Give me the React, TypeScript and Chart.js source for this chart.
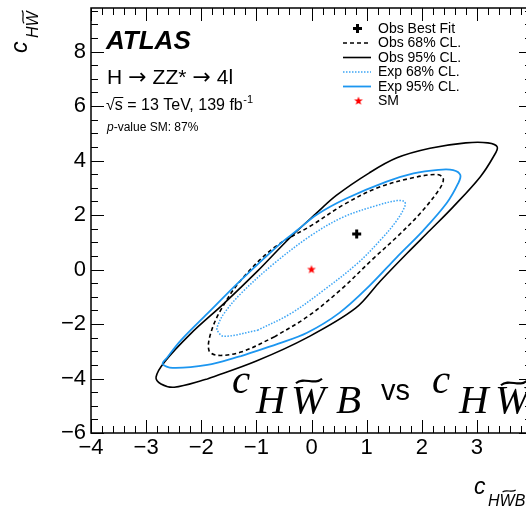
import React, { useEffect, useRef } from 'react';
import { Chart, registerables } from 'chart.js';

Chart.register(...registerables);

// ---- data -----------------------------------------------------------------
const xTicks = [-4, -3, -2, -1, 0, 1, 2, 3, 4];
const yTicks = [-6, -4, -2, 0, 2, 4, 6, 8];
const xRange = [-4, 4];
const yRange = [-6, 9.6];

const obsBestFit = [[0.82, 1.3]];
const smPoint = [[0, 0]];

const obs95 = [
  [-1.89, -4.02], [-1.0, -3.36], [-0.08, -2.5], [0.8, -1.42], [1.25, -0.42], [1.73, 0.59],
  [2.15, 1.44], [2.57, 2.3], [3.06, 3.4], [3.3, 4.14], [3.37, 4.5], [3.2, 4.65], [2.8, 4.65],
  [2.15, 4.45], [1.55, 4.1], [1.05, 3.55], [0.45, 2.72], [0.08, 2.05], [-0.4, 1.15],
  [-0.98, -0.06], [-1.59, -1.25], [-2.19, -2.35], [-2.67, -3.4], [-2.82, -3.95], [-2.73, -4.2],
  [-2.49, -4.32], [-1.89, -4.02],
];

const obs68 = [
  [-0.68, -2.48], [-0.08, -1.74], [0.52, -0.76], [1.13, 0.42], [1.55, 1.2], [1.97, 2.06],
  [2.33, 2.98], [2.39, 3.35], [2.27, 3.49], [1.8, 3.35], [1.2, 3.0], [0.6, 2.4], [0.0, 1.62],
  [-0.68, 0.8], [-1.28, -0.39], [-1.65, -1.5], [-1.83, -2.35], [-1.86, -2.97], [-1.71, -3.15],
  [-1.28, -3.03], [-0.68, -2.48],
];

const exp95 = [
  [-1.28, -3.18], [-0.6, -2.72], [-0.08, -2.32], [0.5, -1.6], [1.05, -0.6], [1.55, 0.46],
  [2.03, 1.44], [2.45, 2.43], [2.66, 3.16], [2.7, 3.47], [2.57, 3.65], [2.3, 3.66], [1.85, 3.53],
  [1.35, 3.22], [0.62, 2.6], [0.1, 2.02], [-0.26, 1.44], [-0.56, 0.96], [-1.28, -0.39],
  [-1.89, -1.62], [-2.37, -2.6], [-2.61, -3.21], [-2.7, -3.46], [-2.52, -3.61], [-1.89, -3.5],
  [-1.28, -3.18],
];

const exp68 = [
  [-0.98, -2.23], [-0.38, -1.62], [0.22, -0.76], [0.83, 0.22], [1.25, 1.08], [1.55, 1.81],
  [1.7, 2.36], [1.68, 2.5], [1.55, 2.53], [1.2, 2.36], [0.58, 1.93], [0.0, 1.26], [-0.68, 0.22],
  [-1.28, -0.88], [-1.59, -1.62], [-1.7, -2.05], [-1.71, -2.23], [-1.59, -2.45], [-0.98, -2.23],
];

const legendLabels = ['Obs Best Fit', 'Obs 68% CL.', 'Obs 95% CL.', 'Exp 68% CL.', 'Exp 95% CL.', 'SM'];

// ---- styling ----------------------------------------------------------------
const SANS = "'Liberation Sans', Arial, Helvetica, sans-serif";
const SERIF = "'Liberation Serif', 'Times New Roman', serif";
const ARROWFONT = "'DejaVu Sans', 'Liberation Sans', sans-serif";
const BLUE = 'rgb(28,150,240)';
const BLUE_LIGHT = 'rgb(60,165,245)';

const toXY = (arr: number[][]) => arr.map(([x, y]) => ({ x, y }));
const fmt = (v: number) => (v < 0 ? '\u2212' + Math.abs(v) : String(v));

function makeStar(r: number, color: string) {
  const c = document.createElement('canvas');
  const s = Math.ceil(r * 2 + 2);
  c.width = s;
  c.height = s;
  const g = c.getContext('2d')!;
  g.fillStyle = color;
  g.beginPath();
  for (let i = 0; i < 10; i++) {
    const rr = i % 2 === 0 ? r : r * 0.42;
    const a = -Math.PI / 2 + (i * Math.PI) / 5;
    const px = s / 2 + rr * Math.cos(a);
    const py = s / 2 + rr * Math.sin(a);
    if (i === 0) g.moveTo(px, py);
    else g.lineTo(px, py);
  }
  g.closePath();
  g.fill();
  return c;
}

function tilde(ctx: CanvasRenderingContext2D, x0: number, x1: number, y: number, a: number, lw: number) {
  const w = x1 - x0;
  ctx.beginPath();
  ctx.moveTo(x0, y + a);
  ctx.bezierCurveTo(x0 + w * 0.3, y - 2.2 * a, x0 + w * 0.7, y + 2.2 * a, x1, y - a);
  ctx.lineWidth = lw;
  ctx.stroke();
}

export default function App() {
  const ref = useRef<HTMLCanvasElement | null>(null);

  useEffect(() => {
    if (!ref.current) return;
    const star = makeStar(4.6, 'rgb(255,0,0)');

    const decor = {
      id: 'decor',
      afterDatasetsDraw(chart: any) {
        const ctx: CanvasRenderingContext2D = chart.ctx;
        const { left, right, top, bottom } = chart.chartArea;
        const xs = chart.scales.x;
        const ys = chart.scales.y;
        ctx.save();
        ctx.strokeStyle = '#000';
        ctx.fillStyle = '#000';

        // ticks
        ctx.lineWidth = 1;
        ctx.beginPath();
        for (let i = 0; i <= 40; i++) {
          const v = xRange[0] + i * 0.2;
          const major = i % 5 === 0;
          const len = major ? 13 : 7;
          const px = Math.round(xs.getPixelForValue(v)) + 0.5;
          ctx.moveTo(px, bottom);
          ctx.lineTo(px, bottom - len);
          ctx.moveTo(px, top);
          ctx.lineTo(px, top + len);
        }
        for (let i = 0; i <= 31; i++) {
          const v = yRange[0] + i * 0.5;
          if (v > yRange[1]) break;
          const major = i % 4 === 0;
          const len = major ? 13 : 7;
          const py = Math.round(ys.getPixelForValue(v)) + 0.5;
          ctx.moveTo(left, py);
          ctx.lineTo(left + len, py);
          ctx.moveTo(right, py);
          ctx.lineTo(right - len, py);
        }
        ctx.stroke();

        // frame
        ctx.lineWidth = 1.5;
        ctx.strokeRect(left, top, right - left, bottom - top);

        // header texts
        ctx.textBaseline = 'alphabetic';
        ctx.textAlign = 'left';
        ctx.font = `italic bold 26px ${SANS}`;
        ctx.fillText('ATLAS', 106, 49);

        // H -> ZZ* -> 4l
        let hx = 107;
        const hy = 84;
        const gap = 6;
        ctx.font = `21px ${SANS}`;
        ctx.fillText('H', hx, hy);
        hx += ctx.measureText('H').width + gap;
        ctx.font = `22px ${ARROWFONT}`;
        ctx.fillText('\u2192', hx, hy);
        hx += ctx.measureText('\u2192').width + gap;
        ctx.font = `21px ${SANS}`;
        ctx.fillText('ZZ*', hx, hy);
        hx += ctx.measureText('ZZ*').width + gap;
        ctx.font = `22px ${ARROWFONT}`;
        ctx.fillText('\u2192', hx, hy);
        hx += ctx.measureText('\u2192').width + gap;
        ctx.font = `21px ${SANS}`;
        ctx.fillText('4l', hx, hy);

        // sqrt(s) line
        const sy = 110;
        ctx.font = `16px ${SANS}`;
        const sq = '\u221A';
        ctx.fillText(sq, 106, sy);
        const sqW = ctx.measureText(sq).width;
        ctx.fillText('s', 106 + sqW, sy);
        const sW = ctx.measureText('s').width;
        ctx.lineWidth = 1;
        ctx.beginPath();
        ctx.moveTo(106 + sqW - 0.5, sy - 12.5);
        ctx.lineTo(106 + sqW + sW + 0.5, sy - 12.5);
        ctx.stroke();
        const rest = ' = 13 TeV, 139 fb';
        ctx.fillText(rest, 106 + sqW + sW, sy);
        const restW = ctx.measureText(rest).width;
        ctx.font = `11px ${SANS}`;
        ctx.fillText('-1', 106 + sqW + sW + restW + 0.5, sy - 7);

        ctx.font = `italic 12px ${SANS}`;
        ctx.fillText('p', 107, 131);
        const pW = ctx.measureText('p').width;
        ctx.font = `12px ${SANS}`;
        ctx.fillText('-value SM: 87%', 107 + pW, 131);

        // legend
        const rows = [28.5, 43, 57.5, 72, 86.5, 101];
        const lx0 = 343;
        const lx1 = 371;
        ctx.lineWidth = 3;
        ctx.beginPath();
        ctx.moveTo(353, rows[0]);
        ctx.lineTo(362, rows[0]);
        ctx.moveTo(357.5, rows[0] - 4.5);
        ctx.lineTo(357.5, rows[0] + 4.5);
        ctx.stroke();
        ctx.lineWidth = 1.6;
        ctx.setLineDash([4, 3]);
        ctx.beginPath();
        ctx.moveTo(lx0, rows[1]);
        ctx.lineTo(lx1, rows[1]);
        ctx.stroke();
        ctx.setLineDash([]);
        ctx.beginPath();
        ctx.moveTo(lx0, rows[2]);
        ctx.lineTo(lx1, rows[2]);
        ctx.stroke();
        ctx.strokeStyle = BLUE_LIGHT;
        ctx.lineWidth = 1.5;
        ctx.setLineDash([1.5, 1.5]);
        ctx.beginPath();
        ctx.moveTo(lx0, rows[3]);
        ctx.lineTo(lx1, rows[3]);
        ctx.stroke();
        ctx.setLineDash([]);
        ctx.strokeStyle = BLUE;
        ctx.lineWidth = 1.8;
        ctx.beginPath();
        ctx.moveTo(lx0, rows[4]);
        ctx.lineTo(lx1, rows[4]);
        ctx.stroke();
        ctx.drawImage(star, 358.5 - star.width / 2, rows[5] - star.height / 2);
        ctx.fillStyle = '#000';
        ctx.strokeStyle = '#000';
        ctx.font = `14px ${SANS}`;
        ctx.textBaseline = 'middle';
        legendLabels.forEach((t, i) => ctx.fillText(t, 378, rows[i] + 0.5));
        ctx.textBaseline = 'alphabetic';

        // big overlay title
        ctx.font = `italic 41px ${SERIF}`;
        ctx.fillText('c', 232, 393);
        ctx.fillText('H', 256, 413);
        ctx.fillText('W', 291, 413);
        tilde(ctx, 296, 322, 381, 2.2, 2.2);
        ctx.fillText('B', 336, 413);
        ctx.font = `29px ${SANS}`;
        ctx.fillText('vs', 381, 400);
        ctx.font = `italic 41px ${SERIF}`;
        ctx.fillText('c', 432, 393);
        ctx.fillText('H', 459, 413);
        ctx.fillText('W', 495, 413);
        tilde(ctx, 501, 527, 383, 2.2, 2.2);

        // x-axis title
        ctx.font = `italic 23px ${SANS}`;
        ctx.fillText('c', 474, 494);
        ctx.font = `italic 16px ${SANS}`;
        let sx = 488;
        ctx.fillText('H', sx, 506);
        sx += ctx.measureText('H').width;
        const wW = ctx.measureText('W').width;
        ctx.fillText('W', sx, 506);
        tilde(ctx, sx + 3, sx + wW + 1, 491, 1.0, 1.1);
        sx += wW;
        ctx.fillText('B', sx, 506);

        // y-axis title
        ctx.save();
        ctx.translate(27, 53);
        ctx.rotate(-Math.PI / 2);
        ctx.font = `italic 23px ${SANS}`;
        ctx.fillText('c', 0, 0);
        ctx.font = `italic 16px ${SANS}`;
        let ry = 15;
        ctx.fillText('H', ry, 11);
        ry += ctx.measureText('H').width;
        const wW2 = ctx.measureText('W').width;
        ctx.fillText('W', ry, 11);
        tilde(ctx, ry + 3, ry + wW2 + 1, -4, 1.0, 1.1);
        ctx.restore();

        ctx.restore();
      },
    };

    const lineDs = (label: string, pts: number[][], color: string, width: number, dash: number[]) => ({
      label,
      data: toXY(pts),
      showLine: true,
      borderColor: color,
      borderWidth: width,
      borderDash: dash,
      pointRadius: 0,
      pointHoverRadius: 0,
      tension: 0.35,
      fill: false,
    });

    const chart = new Chart(ref.current, {
      type: 'scatter',
      data: {
        datasets: [
          lineDs('Exp 95% CL.', exp95, BLUE, 1.8, []),
          lineDs('Exp 68% CL.', exp68, BLUE_LIGHT, 1.5, [1.5, 1.5]),
          lineDs('Obs 95% CL.', obs95, '#000', 1.6, []),
          lineDs('Obs 68% CL.', obs68, '#000', 1.6, [4, 3]),
          {
            label: 'Obs Best Fit',
            data: toXY(obsBestFit),
            pointStyle: 'cross',
            pointRadius: 4.5,
            borderWidth: 3,
            borderColor: '#000',
            backgroundColor: '#000',
          } as any,
          {
            label: 'SM',
            data: toXY(smPoint),
            pointStyle: star,
            pointRadius: 5,
          } as any,
        ],
      },
      options: {
        animation: false,
        responsive: false,
        maintainAspectRatio: false,
        layout: { padding: { top: 8, right: 28, left: 0, bottom: 0 } },
        plugins: { legend: { display: false }, tooltip: { enabled: false } },
        scales: {
          x: {
            type: 'linear',
            min: xRange[0],
            max: xRange[1],
            grid: { display: false, drawTicks: false },
            border: { display: false },
            afterBuildTicks: (s: any) => {
              s.ticks = xTicks.map((v) => ({ value: v }));
            },
            afterFit: (s: any) => {
              s.height = 76;
              s.paddingLeft = 0;
              s.paddingRight = 0;
            },
            ticks: {
              autoSkip: false,
              maxRotation: 0,
              padding: 2,
              color: '#000',
              font: { family: SANS, size: 22 },
              callback: (v: any) => fmt(Number(v)),
            },
          },
          y: {
            type: 'linear',
            min: yRange[0],
            max: yRange[1],
            grid: { display: false, drawTicks: false },
            border: { display: false },
            afterBuildTicks: (s: any) => {
              s.ticks = yTicks.map((v) => ({ value: v }));
            },
            afterFit: (s: any) => {
              s.width = 91;
              s.paddingTop = 0;
              s.paddingBottom = 0;
            },
            ticks: {
              autoSkip: false,
              padding: 5,
              color: '#000',
              font: { family: SANS, size: 22 },
              callback: (v: any) => fmt(Number(v)),
            },
          },
        },
      },
      plugins: [decor],
    });

    return () => chart.destroy();
  }, []);

  return (
    <div style={{ position: 'absolute', left: 0, top: 0, width: 526, height: 509, overflow: 'hidden', background: '#fff' }}>
      <canvas ref={ref} width={560} height={509} style={{ display: 'block' }} />
    </div>
  );
}
